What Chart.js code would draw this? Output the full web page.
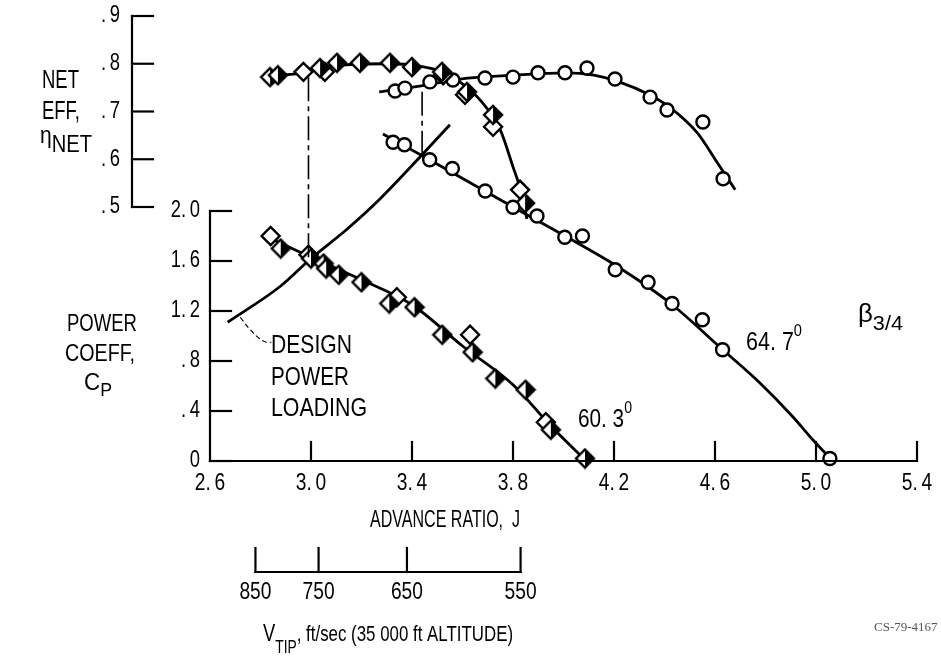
<!DOCTYPE html>
<html>
<head>
<meta charset="utf-8">
<script src="https://cdn.jsdelivr.net/npm/chart.js@4.4.1/dist/chart.umd.min.js"></script>
<style>
    html, body { margin: 0; padding: 0; background: #fff; }
    #chart { display: block; }
</style>
</head>
<body>
<canvas id="chart" width="941" height="659"></canvas>
<script>
// axes
const jTicks = [2.6, 3.0, 3.4, 3.8, 4.2, 4.6, 5.0, 5.4];
const cpTicks = [0, 0.4, 0.8, 1.2, 1.6, 2.0];
const etaTicks = [0.5, 0.6, 0.7, 0.8, 0.9];
// tip speed scale, placed at the advance ratio it matches
const vtipLabels = ['850', '750', '650', '550'];
const vtipJ = [2.78, 3.03, 3.38, 3.83];

// beta 60.3 deg - power coefficient (open / half filled diamonds)
const cp603OpenJ = [2.84, 2.99, 3.34, 3.63, 3.93];
const cp603OpenCp = [1.80, 1.65, 1.31, 1.01, 0.31];
const cp603HalfJ = [2.88, 3.00, 3.05, 3.06, 3.11, 3.20, 3.31, 3.41, 3.52, 3.64, 3.73, 3.85, 3.95, 4.085];
const cp603HalfCp = [1.70, 1.62, 1.58, 1.54, 1.49, 1.43, 1.26, 1.23, 1.01, 0.87, 0.66, 0.57, 0.25, 0.02];
const cp603FitJ = [2.84, 3.0, 3.2, 3.4, 3.6, 3.8, 3.95, 4.09];
const cp603FitCp = [1.78, 1.63, 1.45, 1.25, 0.92, 0.61, 0.28, 0.0];

// beta 64.7 deg - power coefficient (circles)
const cp647J = [3.325, 3.37, 3.47, 3.56, 3.69, 3.80, 3.895, 4.005, 4.075, 4.205, 4.335, 4.43, 4.55, 4.63, 5.055];
const cp647Cp = [2.55, 2.53, 2.41, 2.34, 2.16, 2.03, 1.96, 1.79, 1.80, 1.53, 1.43, 1.26, 1.13, 0.89, 0.02];
const cp647FitJ = [3.285, 3.471, 3.80, 4.006, 4.204, 4.422, 4.632, 4.778, 4.909, 4.988, 5.055];
const cp647FitCp = [2.616, 2.408, 2.032, 1.80, 1.568, 1.264, 0.888, 0.624, 0.352, 0.168, 0.024];

// design power loading line
const designJ = [2.67, 2.88, 3.0, 3.14, 3.27, 3.44, 3.55];
const designCp = [1.11, 1.40, 1.62, 1.85, 2.09, 2.45, 2.69];

// beta 60.3 deg - net efficiency
const eta603OpenJ = [2.97, 3.055, 3.523, 3.61, 3.721, 3.828];
const eta603OpenEta = [0.783, 0.783, 0.776, 0.735, 0.668, 0.536];
const eta603HalfJ = [2.838, 2.869, 3.036, 3.103, 3.194, 3.313, 3.40, 3.519, 3.618, 3.721, 3.848];
const eta603HalfEta = [0.772, 0.776, 0.791, 0.802, 0.802, 0.802, 0.793, 0.783, 0.741, 0.693, 0.508];
const eta603FitJ = [2.83, 2.97, 3.1, 3.3, 3.43, 3.53, 3.6, 3.67, 3.75, 3.80, 3.83, 3.855];
const eta603FitEta = [0.774, 0.781, 0.796, 0.800, 0.795, 0.781, 0.758, 0.724, 0.661, 0.584, 0.536, 0.475];

// beta 64.7 deg - net efficiency
const eta647J = [3.333, 3.372, 3.471, 3.562, 3.689, 3.80, 3.899, 4.006, 4.093, 4.204, 4.343, 4.41, 4.552, 4.632];
const eta647Eta = [0.743, 0.749, 0.762, 0.766, 0.770, 0.772, 0.781, 0.781, 0.791, 0.768, 0.730, 0.703, 0.678, 0.559];
const eta647FitJ = [3.27, 3.43, 3.59, 3.80, 4.01, 4.12, 4.22, 4.34, 4.42, 4.53, 4.61, 4.68];
const eta647FitEta = [0.741, 0.753, 0.768, 0.776, 0.781, 0.776, 0.762, 0.735, 0.709, 0.655, 0.592, 0.536];

// design points, projected from Cp up to efficiency
const designPtJ = [2.99, 3.44];
const designPtCp = [1.63, 2.45];
const designPtEta = [0.782, 0.755];

const FONT = "'Liberation Sans', Arial, sans-serif";
const SQUEEZE = 0.8; // lettering in the original is condensed

function pts(xs, ys) {
    return xs.map((x, i) => ({x: x, y: ys[i]}));
}

// diamond with the right half black
function halfDiamond(r) {
    const c = document.createElement('canvas');
    const s = 2 * r + 4;
    c.width = s;
    c.height = s;
    const g = c.getContext('2d');
    const m = s / 2;
    const path = () => {
        g.beginPath();
        g.moveTo(m, m - r); g.lineTo(m + r, m); g.lineTo(m, m + r); g.lineTo(m - r, m); g.closePath();
    };
    path();
    g.fillStyle = '#fff';
    g.fill();
    g.beginPath();
    g.moveTo(m, m - r); g.lineTo(m + r, m); g.lineTo(m, m + r); g.closePath();
    g.fillStyle = '#000';
    g.fill();
    path();
    g.lineWidth = 2.4;
    g.strokeStyle = '#000';
    g.stroke();
    return c;
}
const HALF = halfDiamond(9);

function markers(data, yAxisID, style, radius) {
    return {
        data: data, yAxisID: yAxisID, showLine: false, clip: false,
        pointStyle: style, pointRadius: radius, pointBorderWidth: 2.4,
        pointBorderColor: '#000', pointBackgroundColor: '#fff'
    };
}
function curve(data, yAxisID) {
    return {
        data: data, yAxisID: yAxisID, showLine: true, clip: false,
        borderColor: '#000', borderWidth: 2.8, pointRadius: 0,
        cubicInterpolationMode: 'monotone'
    };
}

// text in parts [text, size, dy]; opt.w fits the whole to a width, else SQUEEZE
function put(ctx, parts, x, y, opt) {
    opt = opt || {};
    let w = 0;
    parts.forEach(p => { ctx.font = p[1] + 'px ' + FONT; w += ctx.measureText(p[0]).width; });
    const k = opt.w ? opt.w / w : SQUEEZE;
    ctx.save();
    ctx.translate(x, y);
    ctx.scale(k, 1);
    let cx = opt.align === 'center' ? -w / 2 : opt.align === 'right' ? -w : 0;
    parts.forEach(p => {
        ctx.font = p[1] + 'px ' + FONT;
        ctx.fillText(p[0], cx, p[2] || 0);
        cx += ctx.measureText(p[0]).width;
    });
    ctx.restore();
}
function seg(ctx, x1, y1, x2, y2) {
    ctx.beginPath();
    ctx.moveTo(x1, y1);
    ctx.lineTo(x2, y2);
    ctx.stroke();
}
// "2.6" is lettered "2. 6" on the original
function spaced(s) {
    return s.replace('.', '.\u2009');
}

const TICK = 21;

const framePlugin = {
    id: 'frame',
    afterDraw(chart) {
        const ctx = chart.ctx;
        const x = chart.scales.x, xv = chart.scales.xv, cp = chart.scales.cp, eta = chart.scales.eta;
        ctx.save();
        ctx.strokeStyle = '#000';
        ctx.fillStyle = '#000';
        ctx.lineWidth = 2.2;
        ctx.lineCap = 'square';

        // power coefficient axis
        const cx = cp.right;
        seg(ctx, cx, cp.getPixelForValue(cpTicks[0]), cx, cp.getPixelForValue(cpTicks[cpTicks.length - 1]));
        cpTicks.forEach(v => seg(ctx, cx, cp.getPixelForValue(v), cx + TICK, cp.getPixelForValue(v)));

        // efficiency axis
        const ex = eta.right;
        seg(ctx, ex, eta.getPixelForValue(etaTicks[0]), ex, eta.getPixelForValue(etaTicks[etaTicks.length - 1]));
        etaTicks.forEach(v => seg(ctx, ex, eta.getPixelForValue(v), ex + TICK, eta.getPixelForValue(v)));

        // advance ratio axis
        const by = x.top;
        seg(ctx, x.left, by, x.right, by);
        jTicks.slice(1).forEach(v => seg(ctx, x.getPixelForValue(v), by, x.getPixelForValue(v), by - TICK + 2));

        // tip speed axis
        const vy = xv.top + 32;
        seg(ctx, xv.getPixelForValue(vtipJ[0]), vy, xv.getPixelForValue(vtipJ[vtipJ.length - 1]), vy);
        vtipJ.forEach(v => seg(ctx, xv.getPixelForValue(v), vy, xv.getPixelForValue(v), vy - 24));

        // tick labels, taken from the scales' own ticks
        ctx.textBaseline = 'middle';
        x.ticks.forEach(t => put(ctx, [[spaced(t.label), 24]], x.getPixelForValue(t.value), by + 22, {align: 'center'}));
        xv.ticks.forEach(t => put(ctx, [[t.label, 24]], xv.getPixelForValue(t.value), vy + 20, {align: 'center'}));
        cp.ticks.forEach(t => put(ctx, [[spaced(t.label), 23]], cx - 10, cp.getPixelForValue(t.value), {align: 'right'}));
        eta.ticks.forEach(t => put(ctx, [[spaced(t.label), 23]], ex - 12, eta.getPixelForValue(t.value), {align: 'right'}));
        ctx.textBaseline = 'alphabetic';

        // design point projections
        ctx.lineWidth = 1.6;
        ctx.lineCap = 'butt';
        ctx.setLineDash([24, 5, 5, 5]);
        designPtJ.forEach((j, i) => {
            const px = x.getPixelForValue(j);
            seg(ctx, px, cp.getPixelForValue(designPtCp[i]), px, eta.getPixelForValue(designPtEta[i]));
        });

        // leader to the design label
        ctx.lineWidth = 1.2;
        ctx.setLineDash([5, 3]);
        const lx = x.getPixelForValue(2.72), ly = cp.getPixelForValue(1.15);
        ctx.beginPath();
        ctx.moveTo(lx, ly);
        ctx.quadraticCurveTo(lx + 16, ly + 22, lx + 26, ly + 25);
        ctx.lineTo(lx + 31, ly + 25);
        ctx.stroke();
        ctx.setLineDash([]);

        // titles and notes
        put(ctx, [['NET', 25]], 42, 88, {w: 37});
        put(ctx, [['EFF,', 25]], 42, 119, {w: 38});
        put(ctx, [['\u03b7', 24], ['NET', 23, 9]], 40, 143, {w: 52});
        put(ctx, [['POWER', 24]], 102, 331, {w: 70, align: 'center'});
        put(ctx, [['COEFF,', 24]], 100, 361, {w: 70, align: 'center'});
        put(ctx, [['C', 24], ['P', 19, 6]], 98, 390, {w: 28, align: 'center'});

        put(ctx, [['DESIGN', 25]], 271, 353, {w: 81});
        put(ctx, [['POWER', 25]], 271, 385, {w: 78});
        put(ctx, [['LOADING', 25]], 271, 416, {w: 96});

        put(ctx, [['60. 3', 25], ['0', 17, -14]], 578, 427, {w: 54});
        put(ctx, [['64. 7', 25], ['0', 17, -14]], 746, 350, {w: 56});
        put(ctx, [['\u03b2', 25], ['3/4', 21, 8]], 858, 322, {w: 45});

        put(ctx, [['ADVANCE RATIO,  J', 23]], 445, 527, {w: 150, align: 'center'});
        put(ctx, [['V', 24], ['TIP', 18, 12], [', ft/sec (35 000 ft ALTITUDE)', 22]], 263, 641, {w: 250});

        ctx.fillStyle = '#555';
        ctx.font = "13px 'Liberation Serif', 'DejaVu Serif', serif";
        ctx.fillText('CS-79-4167', 874, 631);
        ctx.restore();
    }
};

const hidden = {grid: {display: false}, border: {display: false}};

new Chart(document.getElementById('chart'), {
    type: 'scatter',
    data: {
        datasets: [
            markers(pts(cp603HalfJ, cp603HalfCp), 'cp', HALF, 9),
            markers(pts(cp603OpenJ, cp603OpenCp), 'cp', 'rectRot', 9),
            markers(pts(cp647J, cp647Cp), 'cp', 'circle', 6.5),
            markers(pts(eta603HalfJ, eta603HalfEta), 'eta', HALF, 9),
            markers(pts(eta603OpenJ, eta603OpenEta), 'eta', 'rectRot', 9),
            markers(pts(eta647J, eta647Eta), 'eta', 'circle', 6.5),
            curve(pts(cp603FitJ, cp603FitCp), 'cp'),
            curve(pts(cp647FitJ, cp647FitCp), 'cp'),
            curve(pts(designJ, designCp), 'cp'),
            curve(pts(eta603FitJ, eta603FitEta), 'eta'),
            curve(pts(eta647FitJ, eta647FitEta), 'eta')
        ]
    },
    options: {
        responsive: false,
        devicePixelRatio: 1,
        animation: false,
        events: [],
        layout: {padding: {top: 16, right: 24, left: 0, bottom: 0}},
        plugins: {legend: {display: false}, tooltip: {enabled: false}},
        scales: {
            x: {
                type: 'linear', position: 'bottom', weight: 0, min: 2.6, max: 5.4, ...hidden,
                afterBuildTicks: s => { s.ticks = jTicks.map(v => ({value: v})); },
                afterFit: s => { s.height = 79; },
                ticks: {display: false, callback: v => v.toFixed(1)}
            },
            xv: {
                type: 'linear', position: 'bottom', weight: 1, min: 2.6, max: 5.4, ...hidden,
                afterBuildTicks: s => { s.ticks = vtipJ.map(v => ({value: v})); },
                afterFit: s => { s.height = 119; },
                ticks: {display: false, callback: (v, i) => vtipLabels[i]}
            },
            cp: {
                type: 'linear', position: 'left', weight: 0, min: 0, max: 3.56, ...hidden,
                afterBuildTicks: s => { s.ticks = cpTicks.map(v => ({value: v})); },
                afterFit: s => { s.width = 78; },
                ticks: {display: false, callback: v => v === 0 ? '0' : v.toFixed(1).replace(/^0/, '')}
            },
            eta: {
                type: 'linear', position: 'left', weight: 1, min: -0.032, max: 0.9, ...hidden,
                afterBuildTicks: s => { s.ticks = etaTicks.map(v => ({value: v})); },
                afterFit: s => { s.width = 132; },
                ticks: {display: false, callback: v => v.toFixed(1).replace(/^0/, '')}
            }
        }
    },
    plugins: [framePlugin]
});
</script>
</body>
</html>
